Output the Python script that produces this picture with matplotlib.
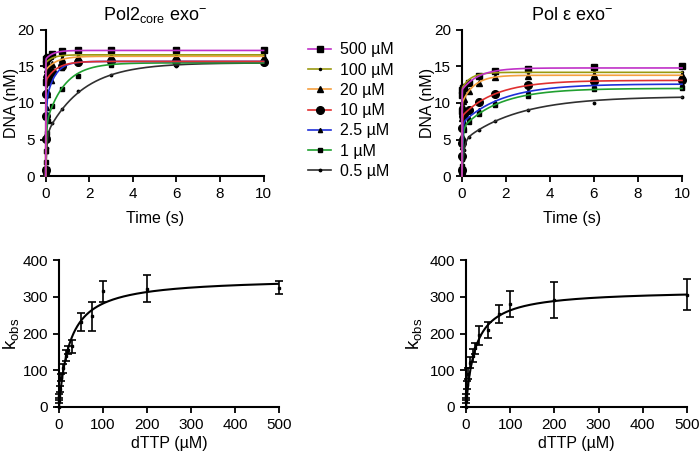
import matplotlib
matplotlib.use('Agg')
import matplotlib.pyplot as plt
import numpy as np

plt.rcParams['font.family'] = ['Liberation Sans', 'DejaVu Sans']

# time course data (s) and product (nM)
times = [0, 0.005, 0.01, 0.02, 0.05, 0.1, 0.3, 0.75, 1.5, 3, 6, 10]
conc_labels = ['500 µM', '100 µM', '20 µM', '10 µM', '2.5 µM', '1 µM', '0.5 µM']
line_colors = ['#c030c8', '#9a9a10', '#f5a040', '#e03030', '#2030d8', '#20a030', '#303030']
markers = ['s', '.', '^', 'o', '^', 's', '.']
msizes = [4.5, 3, 5, 5.5, 3, 3, 3.5]

pol2_data = [
    [0.8, 12.9, 15.4, 16.0, 16.2, 16.3, 16.7, 17.1, 17.2, 17.3, 17.3, 17.2],
    [0.9, 12.3, 14.8, 15.5, 15.7, 15.8, 16.1, 16.4, 16.6, 16.5, 16.7, 16.6],
    [0.7, 8.2, 11.7, 14.0, 14.7, 14.9, 15.4, 16.0, 16.3, 16.4, 16.4, 16.3],
    [0.8, 5.1, 8.2, 11.3, 13.2, 13.5, 14.2, 15.1, 15.6, 15.7, 15.7, 15.6],
    [0.6, 1.9, 3.4, 5.8, 9.3, 11.1, 13.0, 14.8, 15.5, 15.7, 15.6, 15.7],
    [0.7, 1.0, 1.9, 3.4, 5.9, 7.6, 9.6, 11.9, 13.7, 15.2, 15.4, 15.5],
    [0.5, 0.6, 1.1, 1.9, 3.8, 5.3, 7.2, 9.2, 11.6, 13.8, 15.1, 15.4],
]
pole_data = [
    [0.8, 8.9, 11.1, 11.8, 12.0, 12.2, 12.8, 13.7, 14.4, 14.7, 14.9, 15.1],
    [0.9, 8.6, 11.1, 12.0, 12.3, 12.5, 13.2, 13.9, 14.1, 14.2, 14.2, 14.3],
    [0.7, 5.5, 8.0, 9.7, 10.3, 10.6, 11.6, 12.8, 13.5, 13.7, 13.8, 13.9],
    [0.8, 2.7, 4.5, 6.6, 8.2, 8.5, 9.1, 10.1, 11.2, 12.4, 13.0, 13.2],
    [0.6, 1.3, 2.4, 4.0, 6.4, 7.4, 8.0, 9.0, 10.2, 11.6, 12.4, 12.6],
    [0.6, 0.8, 1.4, 2.6, 4.8, 6.3, 7.4, 8.5, 9.7, 11.0, 11.9, 12.0],
    [0.5, 0.3, 0.5, 1.0, 2.2, 3.5, 5.3, 6.3, 7.5, 9.0, 10.0, 10.8],
]
# double exponential fit parameters (A1, k1, A2, k2)
pol2_fit = [
    (16.0, 325, 1.2, 3.0), (15.5, 315, 1.1, 3.0), (14.5, 165, 1.9, 2.0),
    (13.0, 100, 2.7, 2.0), (10.0, 40, 5.7, 2.5), (7.0, 30, 8.5, 1.2),
    (5.5, 20, 10.0, 0.6),
]
pole_fit = [
    (11.8, 280, 3.0, 1.3), (12.0, 250, 2.2, 2.5), (10.0, 160, 3.8, 1.8),
    (8.2, 80, 4.9, 0.65), (7.2, 40, 5.4, 0.55), (6.5, 25, 5.5, 0.6),
    (4.7, 12, 6.2, 0.4),
]

# kobs vs dTTP
dttp = [0, 0.5, 1, 2.5, 5, 10, 15, 20, 30, 50, 75, 100, 200, 500]
pol2_kobs = [0, 15, 30, 50, 80, 105, 140, 155, 165, 231, 247, 315, 322, 325]
pol2_err = [0, 5, 6, 8, 10, 12, 15, 12, 18, 25, 39, 29, 37, 17]
pole_kobs = [0, 15, 30, 60, 90, 120, 140, 160, 195, 209, 253, 280, 291, 306]
pole_err = [0, 5, 6, 10, 15, 15, 18, 15, 25, 22, 24, 36, 49, 42]
pol2_hyp = (352, 25)   # kpol, Kd
pole_hyp = (319, 21.3)

fig = plt.figure(figsize=(7, 4.57), dpi=100)
W, H = 700.0, 457.0


def add_ax(x0, x1, ytop, ybot):
    return fig.add_axes([x0 / W, 1 - ybot / H, (x1 - x0) / W, (ybot - ytop) / H])


def style(ax):
    for s in ['top', 'right']:
        ax.spines[s].set_visible(False)
    for s in ['left', 'bottom']:
        ax.spines[s].set_linewidth(1.5)
    ax.tick_params(direction='out', length=4.5, width=1.3, labelsize=11, pad=3.5)


tfine = np.concatenate([np.linspace(0, 0.1, 300), np.linspace(0.1, 10, 600)])

ax1 = add_ax(45.7, 263.6, 30, 176)
ax2 = add_ax(462, 682, 30, 176)
handles = []
for ax, data, fits in [(ax1, pol2_data, pol2_fit), (ax2, pole_data, pole_fit)]:
    for i in range(len(conc_labels))[::-1]:
        A1, k1, A2, k2 = fits[i]
        yfit = A1 * (1 - np.exp(-k1 * tfine)) + A2 * (1 - np.exp(-k2 * tfine))
        ax.plot(times, data[i], linestyle='none', marker=markers[i], ms=msizes[i],
                color='black', clip_on=False, zorder=3)
        ax.plot(tfine, yfit, color=line_colors[i], lw=1.2, zorder=4, clip_on=False)
    ax.set_xlim(0, 10)
    ax.set_ylim(0, 20)
    ax.set_xticks([0, 2, 4, 6, 8, 10])
    ax.set_yticks([0, 5, 10, 15, 20])
    ax.set_xlabel('Time (s)', fontsize=11.5)
    ax.set_ylabel('DNA (nM)', fontsize=11.5)
    ax.xaxis.set_label_coords(0.5, -0.24)
    ax.yaxis.set_label_coords(-0.123, 0.5)
    style(ax)

ax1.set_title('Pol2$_{\\mathregular{core}}$ exo$^{\\mathregular{-}}$', fontsize=13, pad=7)
ax2.set_title('Pol ε exo$^{\\mathregular{-}}$', fontsize=13, pad=7)

for i in range(len(conc_labels)):
    h, = plt.plot([], [], color=line_colors[i], lw=1.2, marker=markers[i],
                  ms=msizes[i], mfc='black', mec='black')
    handles.append(h)
fig.legend(handles, conc_labels, loc='upper left', bbox_to_anchor=(302 / W, 1 - 36 / H),
           frameon=False, fontsize=11.5, handlelength=1.4, labelspacing=0.33,
           handletextpad=0.6, borderaxespad=0)

ax3 = add_ax(59, 279, 260, 407)
ax4 = add_ax(466, 687, 260, 407)
cfine = np.linspace(0, 500, 1000)
for ax, k, e, (kpol, kd) in [(ax3, pol2_kobs, pol2_err, pol2_hyp),
                             (ax4, pole_kobs, pole_err, pole_hyp)]:
    ax.errorbar(dttp, k, yerr=e, fmt='s', ms=2, color='black', ecolor='black',
                elinewidth=1.2, capsize=3, capthick=1.2, clip_on=False, zorder=3)
    ax.plot(cfine, kpol * cfine / (kd + cfine), color='black', lw=1.5, zorder=4)
    ax.set_xlim(0, 500)
    ax.set_ylim(0, 400)
    ax.set_xticks([0, 100, 200, 300, 400, 500])
    ax.set_yticks([0, 100, 200, 300, 400])
    ax.set_xlabel('dTTP (µM)', fontsize=11.5)
    ax.set_ylabel('k$_{\\mathregular{obs}}$', fontsize=13.5)
    ax.xaxis.set_label_coords(0.5, -0.2)
    style(ax)
ax3.yaxis.set_label_coords(-0.168, 0.5)
ax4.yaxis.set_label_coords(-0.185, 0.5)

fig.savefig('out.png', dpi=100)
